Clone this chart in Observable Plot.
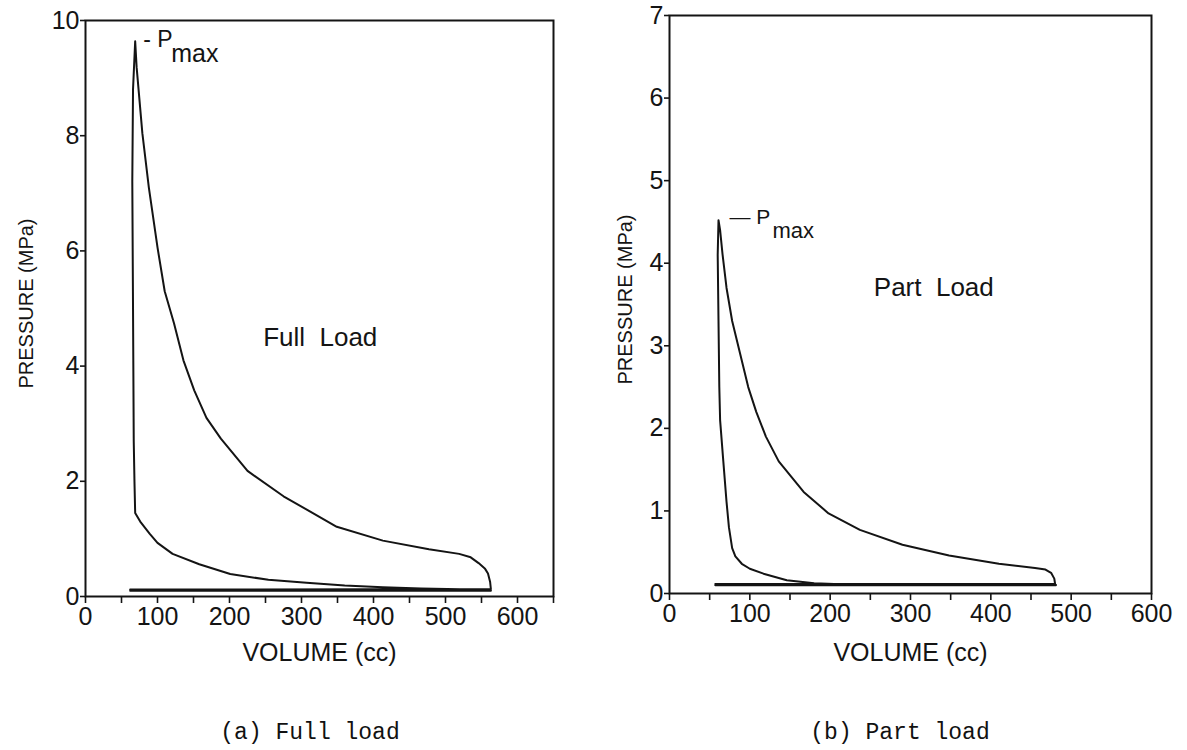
<!DOCTYPE html>
<html>
<head>
<meta charset="utf-8">
<script src="https://cdn.jsdelivr.net/npm/d3@7"></script>
<script src="https://cdn.jsdelivr.net/npm/@observablehq/plot@0.6"></script>
<style>
  body { margin: 0; background: #fff; }
  #page { position: relative; width: 1187px; height: 750px; overflow: hidden; background: #fff; }
  .panel { position: absolute; top: 0; }
  .caption {
    position: absolute; top: 722px; line-height: 23px;
    font-family: "Liberation Mono", "DejaVu Sans Mono", monospace; font-size: 23px;
    color: #111; transform: translateX(-50%); white-space: pre;
  }
  svg text { white-space: pre; }
</style>
</head>
<body>
<div id="page"></div>
<script>
// Cylinder pressure vs. volume, one closed cycle per load case
// (intake, compression, combustion peak, expansion, exhaust), volume in cc, pressure in MPa.
const fullV = [62, 563, 563, 520, 466, 413, 360, 307, 254, 201, 158, 121, 100, 89, 76, 69, 68, 67, 66, 65, 66, 69,
               71, 79, 88, 100, 110, 123, 136, 151, 168, 188, 225, 275, 349, 413, 477, 519, 535, 546, 555, 559, 562, 563, 62];
const fullP = [0.10, 0.10, 0.11, 0.125, 0.14, 0.16, 0.19, 0.24, 0.29, 0.39, 0.56, 0.74, 0.93, 1.09, 1.30, 1.45, 2.0, 2.7, 5.0, 7.2, 8.8, 9.64,
               9.19, 8.04, 7.1, 6.06, 5.3, 4.74, 4.1, 3.58, 3.1, 2.74, 2.18, 1.74, 1.21, 0.97, 0.82, 0.74, 0.68, 0.58, 0.48, 0.40, 0.25, 0.13, 0.12];

const partV = [57, 481, 481, 400, 300, 205, 180, 146, 117, 100, 90, 82, 78, 74, 71, 67, 63, 62, 61, 60, 61,
               63, 66, 71, 78, 88, 98, 108, 120, 136, 167, 198, 237, 290, 348, 410, 455, 468, 475, 479, 480, 57];
const partP = [0.10, 0.10, 0.105, 0.11, 0.11, 0.115, 0.125, 0.16, 0.24, 0.30, 0.36, 0.45, 0.55, 0.80, 1.11, 1.60, 2.10, 2.50, 3.30, 4.10, 4.52,
               4.40, 4.11, 3.70, 3.30, 2.90, 2.50, 2.20, 1.90, 1.60, 1.23, 0.97, 0.77, 0.59, 0.46, 0.36, 0.31, 0.29, 0.25, 0.18, 0.115, 0.115];

// Axis ticks
const fullXTicks = [0, 50, 100, 150, 200, 250, 300, 350, 400, 450, 500, 550, 600, 650];
const partXTicks = [0, 50, 100, 150, 200, 250, 300, 350, 400, 450, 500, 550, 600];
const fullYTicks = [0, 2, 4, 6, 8, 10];
const partYTicks = [0, 1, 2, 3, 4, 5, 6, 7];

const xLabel = "VOLUME (cc)";
const yLabel = "PRESSURE (MPa)";
const fullTitle = "Full  Load";
const partTitle = "Part  Load";
const captions = ["(a) Full load", "(b) Part load"];

const ink = "#141414";
const sans = "'Liberation Sans', Arial, Helvetica, sans-serif";

function panel({V, P, xDomain, yDomain, xTicks, yTicks, width, margins, xLabelDy, yLabelDx, title, titleAt, pmax}) {
  const rows = V.map((v, i) => ({V: v, P: P[i]}));
  const peak = rows[d3.maxIndex(rows, d => d.P)];
  return Plot.plot({
    width, height: 690,
    marginLeft: margins[0], marginTop: margins[1], marginRight: margins[2], marginBottom: margins[3],
    style: {fontFamily: sans, fontSize: "25px", color: ink, background: "transparent"},
    x: {domain: xDomain},
    y: {domain: yDomain},
    marks: [
      Plot.frame({stroke: ink, strokeWidth: 2}),
      Plot.axisX({ticks: xTicks, tickFormat: d => (d % 100 === 0 ? String(d) : ""), tickSize: 7, tickPadding: 4,
                  stroke: ink, strokeWidth: 1.6, fill: ink, fontSize: 25, label: null}),
      Plot.axisY({ticks: yTicks, tickFormat: d => String(d), tickSize: 5, tickPadding: 1, stroke: ink, strokeWidth: 1.6,
                  fill: ink, fontSize: 25, label: null}),
      Plot.line(rows, {x: "V", y: "P", stroke: ink, strokeWidth: 2, curve: "linear"}),
      Plot.text([xLabel], {frameAnchor: "bottom", textAnchor: "middle", lineAnchor: "bottom", dy: xLabelDy,
                           fontSize: 25, fill: ink}),
      Plot.text([yLabel], {frameAnchor: "left", rotate: -90, textAnchor: "middle", lineAnchor: "middle",
                           dx: yLabelDx, dy: -5, fontSize: 20, fill: ink}),
      Plot.text([title], {x: titleAt[0], y: titleAt[1], textAnchor: "middle", lineAnchor: "middle", fontSize: 26, fill: ink}),
      Plot.text([peak], {x: "V", y: "P", text: () => pmax.lead, textAnchor: "start", lineAnchor: "bottom",
                         dx: pmax.dx, dy: pmax.dy, fontSize: pmax.size, fill: ink}),
      Plot.text([peak], {x: "V", y: "P", text: () => "max", textAnchor: "start", lineAnchor: "bottom",
                         dx: pmax.subDx, dy: pmax.subDy, fontSize: pmax.subSize, fill: ink})
    ]
  });
}

const page = document.getElementById("page");

const left = panel({
  V: fullV, P: fullP, xDomain: [0, 650], yDomain: [0, 10],
  xTicks: fullXTicks, yTicks: fullYTicks, width: 590, margins: [85, 20, 37, 94],
  xLabelDy: 64, yLabelDx: -59,
  title: fullTitle, titleAt: [326, 4.5],
  pmax: {lead: "- P", dx: 8, dy: 6, size: 23, subDx: 36, subDy: 21, subSize: 25}
});
left.classList.add("panel");
left.style.left = "0px";
page.appendChild(left);

const right = panel({
  V: partV, P: partP, xDomain: [0, 600], yDomain: [0, 7],
  xTicks: partXTicks, yTicks: partYTicks, width: 587, margins: [69, 15, 36, 97],
  xLabelDy: 67, yLabelDx: -44,
  title: partTitle, titleAt: [329, 3.7],
  pmax: {lead: "\u2014 P", dx: 11, dy: 4, size: 21, subDx: 54, subDy: 18, subSize: 22}
});
right.classList.add("panel");
right.style.left = "600px";
page.appendChild(right);

[[310, captions[0]], [900, captions[1]]].forEach(([cx, text]) => {
  const div = document.createElement("div");
  div.className = "caption";
  div.style.left = cx + "px";
  div.textContent = text;
  page.appendChild(div);
});
</script>
</body>
</html>
